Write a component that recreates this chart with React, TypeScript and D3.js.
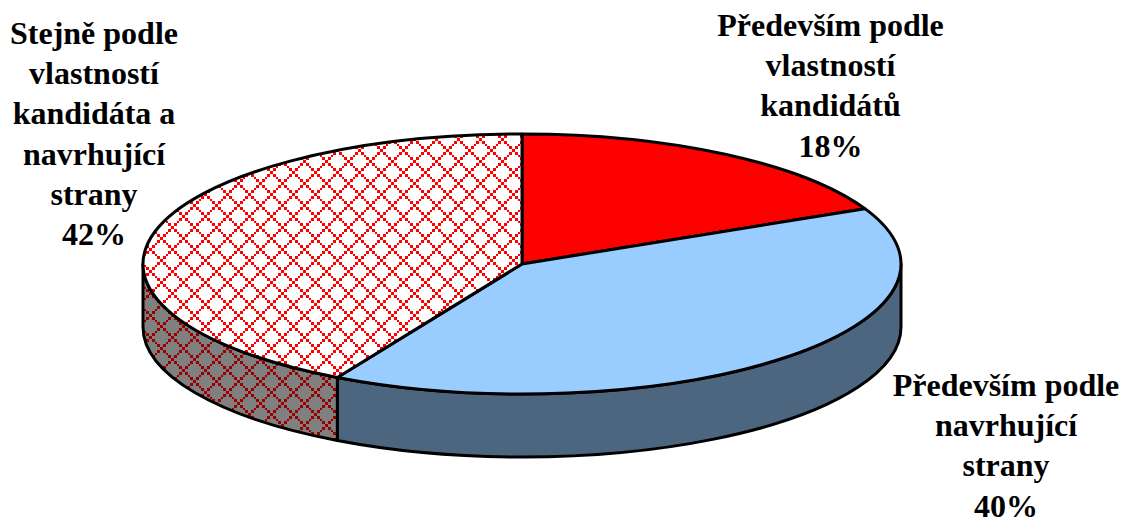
import React from "react";
import * as d3 from "d3";

const categories = ["Především podle vlastností kandidátů", "Především podle navrhující strany", "Stejně podle vlastností kandidáta a navrhující strany"];
const values = [18, 40.1, 41.9];
const labelLines = [
  ["Především podle", "vlastností", "kandidátů", "18%"],
  ["Především podle", "navrhující", "strany", "40%"],
  ["Stejně podle", "vlastností", "kandidáta a", "navrhující", "strany", "42%"],
];
const labelX = [830.5, 1006, 94];
const labelY = [36, 396, 44];
const lineStep = 40.2;
const topFills = ["#ff0000", "#99ccff", "url(#diamondTop)"];
const sideFills = ["#800000", "#4d6680", "url(#diamondSide)"];

const W = 1122, H = 520;
const cx = 522, cy = 264, rx = 379, ry = 130, depth = 63;
const tile = 22;
const blockEdges = [0, 3, 6, 8, 11, 14, 17, 19, 22];
const steps = d3.range(8);

const px = (a: number) => cx + rx * Math.sin(a);
const py = (a: number) => cy - ry * Math.cos(a);

const pie = d3.pie<number>().sort(null).value((d) => d);
const arcs = pie(values);

function topPath(a0: number, a1: number) {
  const large = a1 - a0 > Math.PI ? 1 : 0;
  return `M${cx},${cy}L${px(a0)},${py(a0)}A${rx},${ry} 0 ${large} 1 ${px(a1)},${py(a1)}Z`;
}
function sidePath(a0: number, a1: number) {
  const s = Math.max(a0, Math.PI / 2), e = Math.min(a1, (3 * Math.PI) / 2);
  if (s >= e) return null;
  return `M${px(s)},${py(s)}A${rx},${ry} 0 0 1 ${px(e)},${py(e)}L${px(e)},${py(e) + depth}A${rx},${ry} 0 0 0 ${px(s)},${py(s) + depth}Z`;
}

function Diamond({ id, bg, fg }: { id: string; bg: string; fg: string }) {
  const block = (c: number, r: number) => (
    <rect
      key={`${c}-${r}`}
      x={blockEdges[c]}
      y={blockEdges[r]}
      width={blockEdges[c + 1] - blockEdges[c]}
      height={blockEdges[r + 1] - blockEdges[r]}
    />
  );
  return (
    <pattern id={id} patternUnits="userSpaceOnUse" width={tile} height={tile} x={490} y={149}>
      <rect width={tile} height={tile} fill={bg} />
      <g fill={fg} shapeRendering="crispEdges">
        {steps.map((i) => block(i, i))}
        {steps.filter((i) => i !== 0 && i !== 4).map((i) => block((8 - i) % 8, i))}
      </g>
    </pattern>
  );
}

export default function App() {
  return (
    <svg width={W} height={H} viewBox={`0 0 ${W} ${H}`} style={{ position: "absolute", left: 0, top: 0 }}>
      <defs>
        <Diamond id="diamondTop" bg="#ffffff" fg="#ff0000" />
        <Diamond id="diamondSide" bg="#808080" fg="#990000" />
      </defs>
      <rect width={W} height={H} fill="#ffffff" />
      {arcs.map((a, i) => {
        const d = sidePath(a.startAngle, a.endAngle);
        return d ? <path key={i} d={d} fill={sideFills[i]} stroke="#000" strokeWidth={3} strokeLinejoin="round" /> : null;
      })}
      {arcs.map((a, i) => (
        <path key={i} d={topPath(a.startAngle, a.endAngle)} fill={topFills[i]} stroke="#000" strokeWidth={3} strokeLinejoin="round">
          <title>{categories[i]}</title>
        </path>
      ))}
      {labelLines.map((lines, i) => (
        <text key={i} textAnchor="middle" fontFamily="'Liberation Serif', serif" fontWeight="bold" fontSize={32} fill="#000">
          {lines.map((l, j) => (
            <tspan key={j} x={labelX[i]} y={labelY[i] + j * lineStep}>{l}</tspan>
          ))}
        </text>
      ))}
    </svg>
  );
}
